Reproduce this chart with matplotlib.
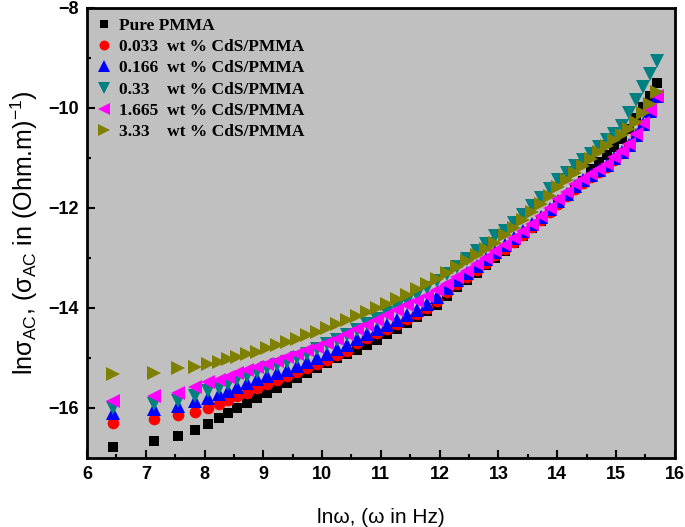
import numpy as np
import matplotlib
matplotlib.use('Agg')
import matplotlib.pyplot as plt

plt.rcParams['font.family'] = ['Liberation Sans', 'DejaVu Sans']
plt.rcParams['mathtext.fontset'] = 'custom'
plt.rcParams['mathtext.rm'] = 'Liberation Sans'
plt.rcParams['mathtext.it'] = 'Liberation Sans'

# ln(omega) values (same for every sample)
lnw = [6.45, 7.14, 7.55, 7.84, 8.06, 8.24, 8.40, 8.56, 8.73, 8.90,
       9.07, 9.24, 9.41, 9.58, 9.75, 9.92, 10.09, 10.26, 10.43, 10.60,
       10.77, 10.94, 11.11, 11.28, 11.45, 11.62, 11.79, 11.96, 12.13, 12.30,
       12.47, 12.63, 12.79, 12.95, 13.11, 13.27, 13.42, 13.57, 13.72, 13.87,
       14.02, 14.16, 14.30, 14.44, 14.58, 14.71, 14.84, 14.97, 15.10, 15.22,
       15.34, 15.46, 15.58, 15.70]

pure = [-16.78, -16.66, -16.56, -16.45, -16.32, -16.20, -16.10, -16.00, -15.90, -15.80,
        -15.70, -15.60, -15.50, -15.40, -15.30, -15.20, -15.10, -15.00, -14.92, -14.84,
        -14.75, -14.64, -14.53, -14.42, -14.30, -14.19, -14.07, -13.94, -13.76, -13.59,
        -13.44, -13.30, -13.15, -13.00, -12.86, -12.71, -12.56, -12.41, -12.26, -12.09,
        -11.91, -11.76, -11.60, -11.46, -11.22, -11.08, -10.94, -10.78, -10.62, -10.42,
        -10.20, -9.98, -9.76, -9.50]

cds_0033 = [-16.30, -16.22, -16.14, -16.08, -16.00, -15.92, -15.84, -15.76, -15.70, -15.61,
            -15.53, -15.45, -15.37, -15.29, -15.20, -15.12, -15.04, -14.95, -14.86, -14.70,
            -14.60, -14.51, -14.42, -14.32, -14.23, -14.13, -14.01, -13.87, -13.68, -13.52,
            -13.38, -13.24, -13.10, -12.95, -12.82, -12.68, -12.54, -12.39, -12.25, -12.09,
            -11.92, -11.77, -11.62, -11.50, -11.39, -11.29, -11.18, -11.04, -10.90, -10.76,
            -10.56, -10.34, -10.08, -9.78]

cds_0166 = [-16.10, -16.02, -15.96, -15.86, -15.80, -15.72, -15.66, -15.58, -15.50, -15.43,
            -15.37, -15.31, -15.24, -15.16, -15.08, -15.00, -14.92, -14.83, -14.75, -14.62,
            -14.52, -14.43, -14.34, -14.24, -14.15, -14.05, -13.93, -13.79, -13.60, -13.44,
            -13.30, -13.16, -13.02, -12.88, -12.75, -12.61, -12.47, -12.33, -12.19, -12.03,
            -11.86, -11.72, -11.57, -11.45, -11.35, -11.25, -11.15, -11.01, -10.88, -10.74,
            -10.54, -10.32, -10.06, -9.77]

cds_033 = [-16.00, -15.92, -15.86, -15.76, -15.66, -15.60, -15.52, -15.43, -15.36, -15.28,
           -15.21, -15.15, -15.08, -15.00, -14.92, -14.83, -14.73, -14.64, -14.55, -14.44,
           -14.33, -14.22, -14.11, -13.99, -13.87, -13.74, -13.61, -13.47, -13.33, -13.18,
           -13.02, -12.87, -12.72, -12.56, -12.46, -12.30, -12.14, -11.97, -11.80, -11.63,
           -11.45, -11.30, -11.17, -11.04, -10.92, -10.78, -10.65, -10.52, -10.36, -10.10,
           -9.84, -9.58, -9.32, -9.06]

cds_1665 = [-15.86, -15.76, -15.70, -15.58, -15.48, -15.44, -15.38, -15.31, -15.25, -15.19,
            -15.12, -15.06, -14.99, -14.92, -14.85, -14.78, -14.70, -14.62, -14.53, -14.43,
            -14.34, -14.25, -14.15, -14.05, -13.95, -13.86, -13.76, -13.65, -13.52, -13.39,
            -13.26, -13.13, -13.00, -12.87, -12.74, -12.60, -12.46, -12.32, -12.17, -12.00,
            -11.82, -11.68, -11.53, -11.42, -11.32, -11.22, -11.12, -10.99, -10.86, -10.72,
            -10.52, -10.30, -10.04, -9.76]

cds_333 = [-15.33, -15.30, -15.21, -15.18, -15.12, -15.08, -15.03, -14.98, -14.93, -14.88,
           -14.81, -14.75, -14.69, -14.62, -14.55, -14.48, -14.40, -14.33, -14.25, -14.16,
           -14.08, -14.00, -13.92, -13.83, -13.74, -13.63, -13.52, -13.42, -13.30, -13.18,
           -13.06, -12.95, -12.83, -12.70, -12.55, -12.40, -12.24, -12.08, -11.92, -11.76,
           -11.58, -11.44, -11.30, -11.16, -11.02, -10.89, -10.76, -10.64, -10.54, -10.42,
           -10.28, -10.11, -9.92, -9.68]

labels = ['Pure PMMA',
          '0.033  wt % CdS/PMMA',
          '0.166  wt % CdS/PMMA',
          '0.33    wt % CdS/PMMA',
          '1.665  wt % CdS/PMMA',
          '3.33    wt % CdS/PMMA']
series = [pure, cds_0033, cds_0166, cds_033, cds_1665, cds_333]
colors = ['#000000', '#ff0000', '#0000ff', '#008080', '#ff00ff', '#808000']
markers = ['s', 'o', '^', 'v', '<', '>']
msizes = [7.2, 8.4, 9.6, 10, 10, 10]

fig = plt.figure(figsize=(6.85, 5.27), dpi=100)
ax = fig.add_axes([0.127, 0.131, 0.858, 0.854])
ax.set_facecolor('#c0c0c0')

for y, c, m, ms, lab in zip(series, colors, markers, msizes, labels):
    ax.plot(lnw, y, linestyle='none', marker=m, color=c, markersize=ms,
            markeredgewidth=0, label=lab)

ax.set_xlim(6, 16)
ax.set_ylim(-17, -8)
ax.set_xticks(np.arange(6, 17, 1))
ax.set_xticks(np.arange(6.5, 16, 1), minor=True)
ax.set_yticks([-16, -14, -12, -10, -8])
ax.set_yticks([-17, -15, -13, -11, -9], minor=True)
ax.tick_params(which='both', direction='in', width=1.5, top=False, right=False,
               labelsize=13)
ax.tick_params(which='major', length=6, pad=6)
ax.tick_params(which='minor', length=3)
for lab in ax.get_xticklabels() + ax.get_yticklabels():
    lab.set_fontweight('bold')
for s in ax.spines.values():
    s.set_linewidth(2)

ax.set_xlabel('ln\u03c9, (\u03c9 in Hz)', fontsize=15, labelpad=18)
ax.set_ylabel('ln\u03c3$_{AC}$, (\u03c3$_{AC}$ in (Ohm.m)$^{-1}$)', fontsize=18, labelpad=6)

leg = ax.legend(loc='upper left', frameon=False, handlelength=0.9,
                handletextpad=0.4, labelspacing=0.3, borderaxespad=0.15,
                markerscale=0.85,
                prop={'family': 'Liberation Serif', 'weight': 'bold', 'size': 12.5})

plt.savefig('out.png', dpi=100)
